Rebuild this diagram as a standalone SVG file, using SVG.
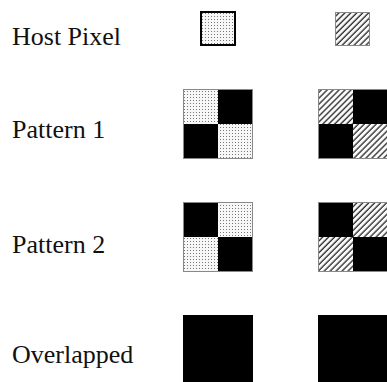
<svg xmlns="http://www.w3.org/2000/svg" width="387" height="382" viewBox="0 0 387 382">
  <style>
    .label { font-family: "Liberation Serif", "Times New Roman", serif; font-size: 26px; fill: #111; }
    .dots { fill: url(#dotFill); }
    .hatch { fill: url(#hatchFill); }
    .solid { fill: #000; }
    .frame { fill: none; stroke: #888; stroke-width: 1; }
  </style>
  <defs>
    <!-- stippled fill -->
    <pattern id="dotFill" width="3" height="3" patternUnits="userSpaceOnUse">
      <rect width="3" height="3" fill="#f7f7f7"/>
      <rect x="1" y="1" width="1" height="1" fill="#777"/>
    </pattern>
    <!-- diagonal hatch, "/" direction -->
    <pattern id="hatchFill" width="4.2" height="4.2" patternUnits="userSpaceOnUse" patternTransform="rotate(45)">
      <rect width="4.2" height="4.2" fill="#fafafa"/>
      <line x1="1" y1="0" x2="1" y2="4.2" stroke="#333" stroke-width="1.4"/>
    </pattern>
  </defs>

  <!-- row labels -->
  <text class="label" x="12" y="45">Host Pixel</text>
  <text class="label" x="12" y="138">Pattern 1</text>
  <text class="label" x="12" y="253">Pattern 2</text>
  <text class="label" x="12" y="363">Overlapped</text>

  <!-- host pixels -->
  <g id="host-dotted">
    <rect class="dots" x="200" y="11" width="36" height="35"/>
    <rect x="201" y="12" width="34" height="33" fill="none" stroke="#000" stroke-width="2"/>
  </g>
  <g id="host-hatched">
    <rect class="hatch" x="335" y="12" width="35" height="34"/>
    <rect class="frame" x="335.5" y="12.5" width="34" height="33"/>
  </g>

  <!-- pattern 1 -->
  <g id="p1-dotted">
    <rect class="dots" x="183" y="89" width="35" height="35"/>
    <rect class="solid" x="218" y="89" width="35" height="35"/>
    <rect class="solid" x="183" y="124" width="35" height="35"/>
    <rect class="dots" x="218" y="124" width="35" height="35"/>
    <rect class="frame" x="183.5" y="89.5" width="69" height="69"/>
  </g>
  <g id="p1-hatched">
    <rect class="hatch" x="318" y="89" width="35" height="35"/>
    <rect class="solid" x="353" y="89" width="35" height="35"/>
    <rect class="solid" x="318" y="124" width="35" height="35"/>
    <rect class="hatch" x="353" y="124" width="35" height="35"/>
    <rect class="frame" x="318.5" y="89.5" width="69" height="69"/>
  </g>

  <!-- pattern 2 -->
  <g id="p2-dotted">
    <rect class="solid" x="183" y="202" width="35" height="35"/>
    <rect class="dots" x="218" y="202" width="35" height="35"/>
    <rect class="dots" x="183" y="237" width="35" height="35"/>
    <rect class="solid" x="218" y="237" width="35" height="35"/>
    <rect class="frame" x="183.5" y="202.5" width="69" height="69"/>
  </g>
  <g id="p2-hatched">
    <rect class="solid" x="318" y="202" width="35" height="35"/>
    <rect class="hatch" x="353" y="202" width="35" height="35"/>
    <rect class="hatch" x="318" y="237" width="35" height="35"/>
    <rect class="solid" x="353" y="237" width="35" height="35"/>
    <rect class="frame" x="318.5" y="202.5" width="69" height="69"/>
  </g>

  <!-- overlapped result -->
  <g id="overlap-dotted">
    <rect class="solid" x="183" y="315" width="70" height="70"/>
  </g>
  <g id="overlap-hatched">
    <rect class="solid" x="318" y="315" width="70" height="70"/>
  </g>
</svg>
